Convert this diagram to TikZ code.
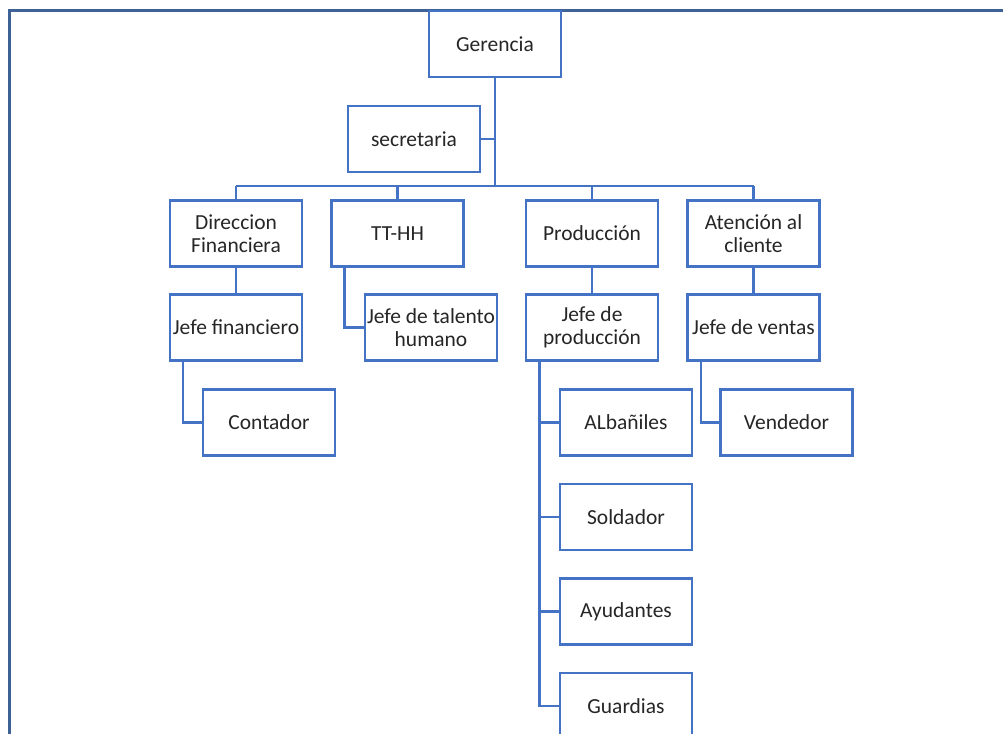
\documentclass[tikz,border=0pt]{standalone}
\usepackage{fontspec}
\setmainfont{Carlito}
\definecolor{lineblue}{HTML}{4472C4}
\definecolor{framecol}{RGB}{62,98,150}
\definecolor{txt}{HTML}{262626}
\begin{document}
\begin{tikzpicture}[x=0.75pt,y=-0.75pt,
  box/.style={draw=lineblue,line width=1.8pt,fill=white,minimum width=99pt,minimum height=49.5pt,
    inner sep=0pt,align=center,text=txt,font=\fontsize{16.1}{17.6}\selectfont},
  conn/.style={draw=lineblue,line width=1.8pt}]
\useasboundingbox (0,0) rectangle (1003,734);
\clip (0,0) rectangle (1003,734);
\draw[framecol,line width=1.8pt] (9.5,10.5) rectangle (1020,760);
% nodes
\node[box] (ger) at (495,44) {Gerencia};
\node[box] (sec) at (414,139) {secretaria};
\node[box] (df) at (236,233.5) {Direccion\\Financiera};
\node[box] (tth) at (397.5,233.5) {TT-HH};
\node[box] (pro) at (592,233.5) {Producción};
\node[box] (ate) at (753.5,233.5) {Atención al\\cliente};
\node[box] (jf) at (236,327.5) {Jefe financiero};
\node[box] (jth) at (431,327.5) {Jefe de talento\\humano};
\node[box] (jp) at (592,327.5) {Jefe de\\producción};
\node[box] (jv) at (753.5,327.5) {Jefe de ventas};
\node[box] (con) at (269,422.5) {Contador};
\node[box] (alb) at (626,422.5) {ALbañiles};
\node[box] (ven) at (786.5,422.5) {Vendedor};
\node[box] (sol) at (626,517) {Soldador};
\node[box] (ayu) at (626,611.5) {Ayudantes};
\node[box] (gua) at (626,706) {Guardias};
% coordinates
\coordinate (bus) at (495,186);
\coordinate (busL) at (236,186);
\coordinate (busR) at (753.5,186);
\coordinate (tthd) at (344.3,267);
\coordinate (jfd) at (183,361);
\coordinate (jpd) at (539.3,361);
\coordinate (jvd) at (701,361);
% connectors
\draw[conn,line width=2.2pt] (ger.south) -- (bus);
\draw[conn] (sec.east) -- (sec.east -| bus);
\draw[conn] (busL) -- (busR);
\draw[conn] (df.north) -- (df.north |- bus);
\draw[conn] (tth.north) -- (tth.north |- bus);
\draw[conn] (pro.north) -- (pro.north |- bus);
\draw[conn] (ate.north) -- (ate.north |- bus);
\draw[conn] (df.south) -- (jf.north);
\draw[conn] (pro.south) -- (jp.north);
\draw[conn] (ate.south) -- (jv.north);
\draw[conn] (tthd) |- (jth.west);
\draw[conn] (jfd) |- (con.west);
\draw[conn] (jvd) |- (ven.west);
\draw[conn] (jpd) |- (gua.west);
\draw[conn] (alb.west -| jpd) -- (alb.west);
\draw[conn] (sol.west -| jpd) -- (sol.west);
\draw[conn] (ayu.west -| jpd) -- (ayu.west);
\end{tikzpicture}
\end{document}
